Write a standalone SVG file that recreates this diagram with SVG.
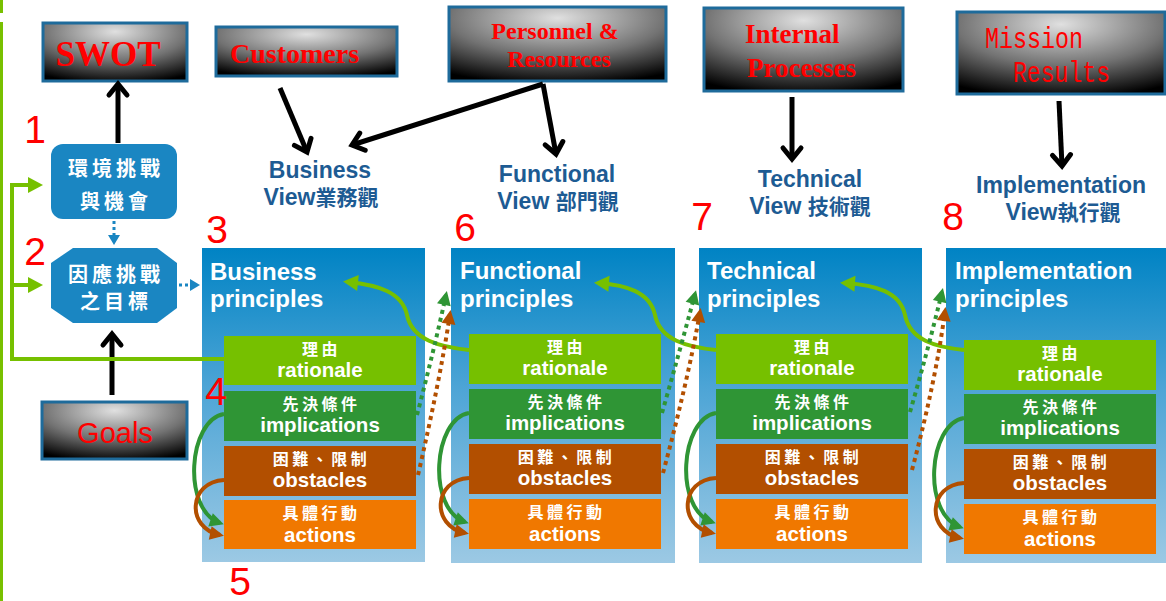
<svg xmlns="http://www.w3.org/2000/svg" width="1166" height="601" viewBox="0 0 1166 601">
  <defs>
    <style>
      .src { fill: url(#metal); stroke: #1e6b9b; stroke-width: 3; }
      .src-txt { font-family: "Liberation Serif", serif; font-weight: bold; fill: #ff0000; }
      .view { font-family: "Liberation Sans", sans-serif; font-weight: bold; font-size: 23px; fill: #1d5b93; text-anchor: middle; }
      .view-cjk { font-family: "Noto Sans CJK TC", sans-serif; font-size: 21px; font-weight: bold; }
      .panel { fill: url(#panelFill); }
      .ptitle { font-family: "Liberation Sans", sans-serif; font-weight: bold; font-size: 24px; fill: #ffffff; }
      .b-cjk { font-family: "Noto Sans CJK TC", sans-serif; font-weight: bold; font-size: 16px; fill: #ffffff; text-anchor: middle; letter-spacing: 3.5px; }
      .b-en { font-family: "Liberation Sans", sans-serif; font-weight: bold; font-size: 20.5px; fill: #ffffff; text-anchor: middle; }
      .rat { fill: #76c000; }
      .imp { fill: #2f9535; }
      .obs { fill: #b24f00; }
      .act { fill: #f07800; }
      .node-blue { fill: #1a86c2; }
      .n-cjk { font-family: "Noto Sans CJK TC", sans-serif; font-weight: bold; font-size: 20px; fill: #ffffff; text-anchor: middle; letter-spacing: 4px; }
      .num { font-family: "Liberation Sans", sans-serif; font-size: 39px; fill: #ff0000; text-anchor: middle; }
      .blk { fill: none; stroke: #000000; stroke-width: 5; marker-end: url(#chev); }
      .lime { fill: none; stroke: #76c000; stroke-width: 4; }
      .dot-g { fill: none; stroke: #2f9535; stroke-width: 4; stroke-dasharray: 4 4; marker-end: url(#ah-green); }
      .dot-b { fill: none; stroke: #b24f00; stroke-width: 4; stroke-dasharray: 4 4; marker-end: url(#ah-brown); }
      .loop-g { fill: none; stroke: #2f9535; stroke-width: 4; marker-end: url(#ah-green); }
      .loop-b { fill: none; stroke: #b24f00; stroke-width: 4; marker-end: url(#ah-brown); }
      .dot-blue { fill: none; stroke: #1a86c2; stroke-width: 3; stroke-dasharray: 3 3; marker-end: url(#ah-blue); }
    </style>
    <radialGradient id="metal" cx="0.5" cy="0.15" r="0.9" gradientUnits="objectBoundingBox">
      <stop offset="0" stop-color="#e0e0e0"/>
      <stop offset="0.55" stop-color="#737373"/>
      <stop offset="1" stop-color="#000000"/>
    </radialGradient>
    <linearGradient id="panelFill" x1="0" y1="0" x2="0" y2="1">
      <stop offset="0" stop-color="#0083c4"/>
      <stop offset="0.45" stop-color="#4ea5d6"/>
      <stop offset="1" stop-color="#9cc9e4"/>
    </linearGradient>
    <marker id="chev" markerUnits="userSpaceOnUse" orient="auto" overflow="visible" markerWidth="30" markerHeight="30" refX="0" refY="0">
      <path d="M-11,-9 L0,0 L-11,9" fill="none" stroke="#000" stroke-width="5" stroke-linecap="round"/>
    </marker>
    <marker id="ah-lime" markerUnits="userSpaceOnUse" orient="auto" overflow="visible" markerWidth="30" markerHeight="30">
      <path d="M-10,-8 L5,0 L-10,8 Z" fill="#76c000"/>
    </marker>
    <marker id="ah-green" markerUnits="userSpaceOnUse" orient="auto" overflow="visible" markerWidth="30" markerHeight="30">
      <path d="M-10,-7 L4,0 L-10,7 Z" fill="#2f9535"/>
    </marker>
    <marker id="ah-brown" markerUnits="userSpaceOnUse" orient="auto" overflow="visible" markerWidth="30" markerHeight="30">
      <path d="M-10,-7 L4,0 L-10,7 Z" fill="#b24f00"/>
    </marker>
    <marker id="ah-blue" markerUnits="userSpaceOnUse" orient="auto" overflow="visible" markerWidth="30" markerHeight="30">
      <path d="M-7,-6 L3,0 L-7,6 Z" fill="#1a86c2"/>
    </marker>
  </defs>

  <rect width="1166" height="601" fill="#ffffff"/>

  <!-- left margin rule -->
  <rect x="0" y="0" width="3" height="13" fill="#78c000"/>
  <rect x="0" y="22" width="3" height="579" fill="#78c000"/>

  <!-- perspective sources -->
  <g id="swot">
    <rect class="src" x="43" y="23" width="144" height="58"/>
    <text class="src-txt" x="108" y="66" font-size="35" text-anchor="middle">SWOT</text>
  </g>
  <g id="customers">
    <rect class="src" x="216" y="27" width="181" height="49"/>
    <text class="src-txt" x="230" y="63" font-size="28">Customers</text>
  </g>
  <g id="personnel">
    <rect class="src" x="449" y="7" width="217" height="74"/>
    <text class="src-txt" x="555" y="39" font-size="24" text-anchor="middle">Personnel &amp;</text>
    <text class="src-txt" x="559" y="67" font-size="24" text-anchor="middle">Resources</text>
  </g>
  <g id="internal">
    <rect class="src" x="704" y="8" width="199" height="83"/>
    <text class="src-txt" x="745" y="43" font-size="27">Internal</text>
    <text class="src-txt" x="747" y="77" font-size="27">Processes</text>
  </g>
  <g id="mission">
    <rect class="src" x="957" y="12" width="208" height="82"/>
    <text x="985" y="48" font-family="Liberation Mono, monospace" font-size="29" fill="#ff0000" textLength="98" lengthAdjust="spacingAndGlyphs">Mission</text>
    <text x="1013" y="82" font-family="Liberation Mono, monospace" font-size="29" fill="#ff0000" textLength="97" lengthAdjust="spacingAndGlyphs">Results</text>
  </g>
  <g id="goals">
    <rect class="src" x="42" y="402" width="145" height="57"/>
    <text x="115" y="443" font-family="Liberation Sans, sans-serif" font-size="29" fill="#ff0000" text-anchor="middle">Goals</text>
  </g>

  <!-- view labels -->
  <g id="business-view">
    <text class="view" x="320" y="178">Business</text>
    <text class="view" x="321" y="205">View<tspan class="view-cjk">業務觀</tspan></text>
  </g>
  <g id="functional-view">
    <text class="view" x="557" y="182">Functional</text>
    <text class="view" x="558" y="209">View <tspan class="view-cjk">部門觀</tspan></text>
  </g>
  <g id="technical-view">
    <text class="view" x="810" y="187">Technical</text>
    <text class="view" x="810" y="214">View <tspan class="view-cjk">技術觀</tspan></text>
  </g>
  <g id="implementation-view">
    <text class="view" x="1061" y="193">Implementation</text>
    <text class="view" x="1063" y="220">View<tspan class="view-cjk">執行觀</tspan></text>
  </g>

  <!-- challenge / objective nodes -->
  <g id="challenges">
    <rect class="node-blue" x="51" y="144" width="126" height="75" rx="12"/>
    <text class="n-cjk" x="116" y="176">環境挑戰</text>
    <text class="n-cjk" x="116" y="209">與機會</text>
  </g>
  <g id="objectives">
    <polygon class="node-blue" points="73,248 157,248 177,263 177,308 157,323 73,323 51,308 51,263"/>
    <text class="n-cjk" x="116" y="282">因應挑戰</text>
    <text class="n-cjk" x="116" y="309">之目標</text>
  </g>

  <!-- principle panels -->
  <g id="business-principles">
    <rect class="panel" x="202" y="248" width="223" height="314"/>
    <text class="ptitle" x="210" y="280">Business</text>
    <text class="ptitle" x="210" y="307">principles</text>
    <g id="bp-rationale"><rect class="rat" x="224" y="336" width="192" height="49"/>
      <text class="b-cjk" x="321.5" y="355">理由</text><text class="b-en" x="320" y="377">rationale</text></g>
    <g id="bp-implications"><rect class="imp" x="224" y="391" width="192" height="50"/>
      <text class="b-cjk" x="321.5" y="410">先決條件</text><text class="b-en" x="320" y="432">implications</text></g>
    <g id="bp-obstacles"><rect class="obs" x="224" y="446" width="192" height="50"/>
      <text class="b-cjk" x="321.5" y="465">困難、限制</text><text class="b-en" x="320" y="487">obstacles</text></g>
    <g id="bp-actions"><rect class="act" x="224" y="500" width="192" height="49"/>
      <text class="b-cjk" x="321.5" y="519">具體行動</text><text class="b-en" x="320" y="542">actions</text></g>
  </g>

  <g id="functional-principles">
    <rect class="panel" x="451" y="248" width="224" height="315"/>
    <text class="ptitle" x="460" y="279">Functional</text>
    <text class="ptitle" x="460" y="307">principles</text>
    <g id="fp-rationale"><rect class="rat" x="469" y="334" width="192" height="50"/>
      <text class="b-cjk" x="566.5" y="353">理由</text><text class="b-en" x="565" y="375">rationale</text></g>
    <g id="fp-implications"><rect class="imp" x="469" y="389" width="192" height="50"/>
      <text class="b-cjk" x="566.5" y="408">先決條件</text><text class="b-en" x="565" y="430">implications</text></g>
    <g id="fp-obstacles"><rect class="obs" x="469" y="444" width="192" height="50"/>
      <text class="b-cjk" x="566.5" y="463">困難、限制</text><text class="b-en" x="565" y="485">obstacles</text></g>
    <g id="fp-actions"><rect class="act" x="469" y="499" width="192" height="50"/>
      <text class="b-cjk" x="566.5" y="518">具體行動</text><text class="b-en" x="565" y="541">actions</text></g>
  </g>

  <g id="technical-principles">
    <rect class="panel" x="699" y="248" width="223" height="315"/>
    <text class="ptitle" x="707" y="279">Technical</text>
    <text class="ptitle" x="707" y="307">principles</text>
    <g id="tp-rationale"><rect class="rat" x="716" y="334" width="192" height="50"/>
      <text class="b-cjk" x="813.5" y="353">理由</text><text class="b-en" x="812" y="375">rationale</text></g>
    <g id="tp-implications"><rect class="imp" x="716" y="389" width="192" height="50"/>
      <text class="b-cjk" x="813.5" y="408">先決條件</text><text class="b-en" x="812" y="430">implications</text></g>
    <g id="tp-obstacles"><rect class="obs" x="716" y="444" width="192" height="50"/>
      <text class="b-cjk" x="813.5" y="463">困難、限制</text><text class="b-en" x="812" y="485">obstacles</text></g>
    <g id="tp-actions"><rect class="act" x="716" y="499" width="192" height="50"/>
      <text class="b-cjk" x="813.5" y="518">具體行動</text><text class="b-en" x="812" y="541">actions</text></g>
  </g>

  <g id="implementation-principles">
    <rect class="panel" x="946" y="248" width="220" height="315"/>
    <text class="ptitle" x="955" y="279">Implementation</text>
    <text class="ptitle" x="955" y="307">principles</text>
    <g id="ip-rationale"><rect class="rat" x="964" y="340" width="192" height="50"/>
      <text class="b-cjk" x="1061.5" y="359">理由</text><text class="b-en" x="1060" y="381">rationale</text></g>
    <g id="ip-implications"><rect class="imp" x="964" y="394" width="192" height="50"/>
      <text class="b-cjk" x="1061.5" y="413">先決條件</text><text class="b-en" x="1060" y="435">implications</text></g>
    <g id="ip-obstacles"><rect class="obs" x="964" y="449" width="192" height="50"/>
      <text class="b-cjk" x="1061.5" y="468">困難、限制</text><text class="b-en" x="1060" y="490">obstacles</text></g>
    <g id="ip-actions"><rect class="act" x="964" y="504" width="192" height="50"/>
      <text class="b-cjk" x="1061.5" y="523">具體行動</text><text class="b-en" x="1060" y="546">actions</text></g>
  </g>

  <!-- step numbers -->
  <g id="step-numbers">
    <text class="num" x="35" y="143">1</text>
    <text class="num" x="35" y="265">2</text>
    <text class="num" x="217" y="243">3</text>
    <text class="num" x="216" y="405">4</text>
    <text class="num" x="240" y="595">5</text>
    <text class="num" x="465" y="241">6</text>
    <text class="num" x="702" y="230">7</text>
    <text class="num" x="953" y="230">8</text>
  </g>

  <!-- connectors -->
  <g id="connectors">
    <!-- black perspective arrows -->
    <path class="blk" d="M118,143 V84"/>
    <path class="blk" d="M280,88 L307,152"/>
    <path class="blk" d="M543,84 L352,145"/>
    <path class="blk" d="M543,84 L556,154"/>
    <path class="blk" d="M792,97 V159"/>
    <path class="blk" d="M1059,101 L1062,166"/>
    <path class="blk" d="M112,395 V334"/>

    <!-- feedback from rationale to both left nodes -->
    <path class="lime" d="M224,359 H12 V185 H38" marker-end="url(#ah-lime)"/>
    <path class="lime" d="M12,285 H38" marker-end="url(#ah-lime)"/>

    <!-- blue dotted flow -->
    <path class="dot-blue" d="M114,221 V242"/>
    <path class="dot-blue" d="M179,285 H197"/>

    <!-- rationale back to previous principles -->
    <path class="lime" d="M469,350 C440,347 412,340 407,315 C402,292 378,285 348,282" marker-end="url(#ah-lime)"/>
    <path class="lime" d="M716,350 C687,347 660,340 655,315 C650,292 626,285 599,283" marker-end="url(#ah-lime)"/>
    <path class="lime" d="M964,350 C935,347 910,340 905,315 C900,292 876,285 845,283" marker-end="url(#ah-lime)"/>

    <!-- implications / obstacles feeding the next principles -->
    <path class="dot-g" d="M417,415 Q434,350 446,295"/>
    <path class="dot-b" d="M418,475 Q440,380 450,314"/>
    <path class="dot-g" d="M662,413 Q680,350 695,294"/>
    <path class="dot-b" d="M663,473 Q688,380 700,312"/>
    <path class="dot-g" d="M910,412 Q928,350 942,292"/>
    <path class="dot-b" d="M912,470 Q936,380 945,311"/>

    <!-- loops into actions -->
    <path class="loop-g" d="M224,414 C188,420 182,510 220,523"/>
    <path class="loop-b" d="M224,480 C188,482 186,528 220,535"/>
    <path class="loop-g" d="M469,413 C433,419 427,509 465,522"/>
    <path class="loop-b" d="M469,478 C433,480 431,526 465,533"/>
    <path class="loop-g" d="M716,413 C680,419 674,509 712,522"/>
    <path class="loop-b" d="M716,478 C680,480 678,526 712,533"/>
    <path class="loop-g" d="M964,418 C928,424 922,514 960,527"/>
    <path class="loop-b" d="M964,483 C928,485 926,531 960,538"/>
  </g>
</svg>
